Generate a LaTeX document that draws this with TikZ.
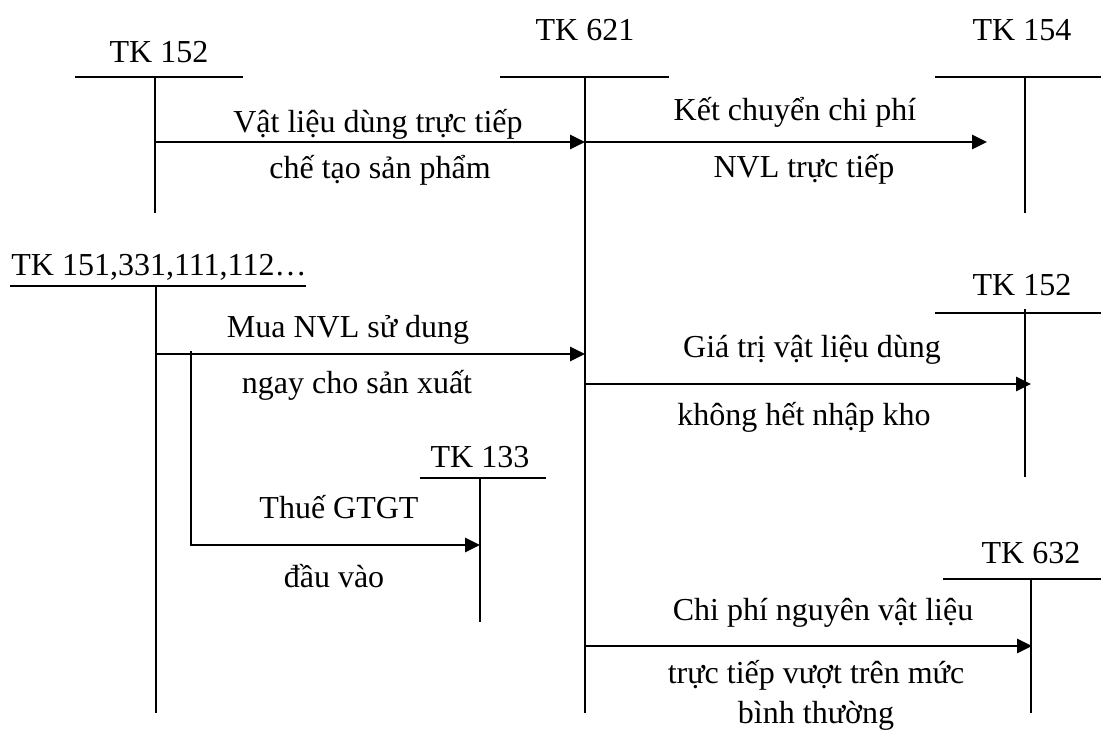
\documentclass[tikz,border=0pt]{standalone}
\usepackage{fontspec}
\setmainfont{Liberation Serif}
\usetikzlibrary{arrows.meta, positioning, calc}

\begin{document}
\begin{tikzpicture}[
    x=0.5pt, y=-0.5pt,
    lbl/.style={font=\fontsize{16}{19}\selectfont, anchor=base, inner sep=0pt},
    tline/.style={line width=1pt},
    arrow/.style={-{Triangle[length=7.5pt, width=7pt]}, line width=1.4pt}
]
\useasboundingbox (0,0) rectangle (1101,745);

% account titles
\node[lbl] (tk152) at (159,62) {TK 152};
\node[lbl] (tk621) at (585,40) {TK 621};
\node[lbl] (tk154) at (1022,40) {TK 154};
\node[lbl, anchor=base west] (tk151) at (11,275) {TK 151,331,111,112…};
\node[lbl] (tk133) at (480,467) {TK 133};
\node[lbl] (tk152b) at (1022,295) {TK 152};
\node[lbl] (tk632) at (1031,563) {TK 632};

% T accounts
\draw[tline] (75,77) -- (243,77) (155,77) -- (155,213);
\draw[tline] (500,77) -- (669,77) (585,77) -- (585,713);
\draw[tline] (935,77) -- (1101,77) (1025,77) -- (1025,213);
\draw[tline] (10,286) -- (306,286) (156,286) -- (156,713);
\draw[tline] (420,478) -- (546,478) (480,478) -- (480,622);
\draw[tline] (935,313) -- (1101,313) (1025,309) -- (1025,477);
\draw[tline] (943,579) -- (1101,579) (1031,579) -- (1031,713);

% arrow ends
\coordinate (a1s) at (155,142);  \coordinate (a1e) at (585,142);
\coordinate (a2s) at (585,142);  \coordinate (a2e) at (987,142);
\coordinate (a3s) at (156,354);  \coordinate (a3e) at (585,354);
\coordinate (a4s) at (191,351);  \coordinate (a4k) at (191,545);
\coordinate (a4e) at (480,545);
\coordinate (a5s) at (585,384);  \coordinate (a5e) at (1031,384);
\coordinate (a6s) at (585,646);  \coordinate (a6e) at (1032,646);

\draw[arrow] (a1s) -- (a1e);
\draw[arrow] (a2s) -- (a2e);
\draw[arrow] (a3s) -- (a3e);
\draw[arrow] (a4s) -- (a4k) -- (a4e);
\draw[arrow] (a5s) -- (a5e);
\draw[arrow] (a6s) -- (a6e);

% arrow texts
\node[lbl] (v1a) at (378,132) {Vật liệu dùng trực tiếp};
\node[lbl] (v1b) at (380,178) {chế tạo sản phẩm};
\node[lbl] (v2a) at (795,120) {Kết chuyển chi phí};
\node[lbl] (v2b) at (804,177) {NVL trực tiếp};
\node[lbl] (v3a) at (348,337) {Mua NVL sử dung};
\node[lbl] (v3b) at (357,393) {ngay cho sản xuất};
\node[lbl] (v4a) at (339,518) {Thuế GTGT};
\node[lbl] (v4b) at (334,587) {đầu vào};
\node[lbl] (v5a) at (812,357) {Giá trị vật liệu dùng};
\node[lbl] (v5b) at (804,425) {không hết nhập kho};
\node[lbl] (v6a) at (823,620) {Chi phí nguyên vật liệu};
\node[lbl] (v6b) at (816,683) {trực tiếp vượt trên mức};
\node[lbl] (v6c) at (816,723) {bình thường};

\end{tikzpicture}
\end{document}
